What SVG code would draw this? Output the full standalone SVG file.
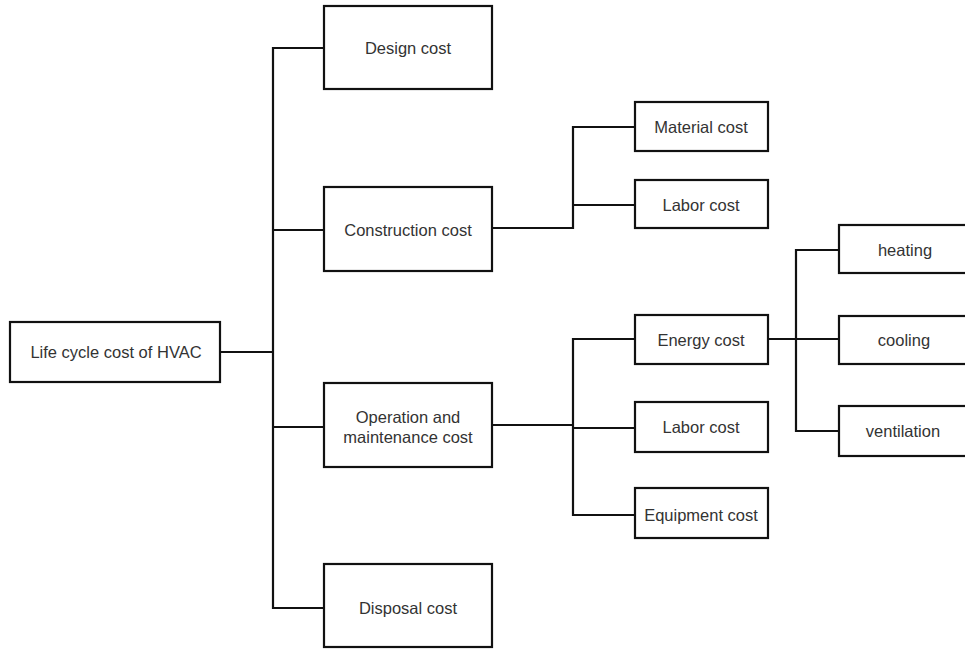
<svg xmlns="http://www.w3.org/2000/svg" width="965" height="649" viewBox="0 0 965 649">
  <style>
    .box { fill: #ffffff; stroke: #111111; stroke-width: 2.2; }
    .lbl { font-family: "Liberation Sans", Arial, sans-serif; font-size: 16.5px; fill: #333333; text-anchor: middle; dominant-baseline: central; }
    .wire { fill: none; stroke: #111111; stroke-width: 2.2; stroke-linejoin: miter; }
  </style>
  <rect width="965" height="649" fill="#ffffff"/>

  <!-- connectors -->
  <g id="connectors" class="wire">
    <!-- root to first level -->
    <path d="M220 352 H273"/>
    <path d="M324 48 H273 V608 H324"/>
    <path d="M273 230 H324"/>
    <path d="M273 427 H324"/>
    <!-- construction branch -->
    <path d="M492 228 H573 V127 H635"/>
    <path d="M573 205 H635"/>
    <!-- operation branch -->
    <path d="M492 425 H573"/>
    <path d="M635 339 H573 V515 H635"/>
    <path d="M573 428 H635"/>
    <!-- energy branch -->
    <path d="M767 339 H839"/>
    <path d="M839 250 H796 V431 H839"/>
  </g>

  <g id="life-cycle">
    <rect class="box" x="10" y="322" width="210" height="60"/>
    <text class="lbl" x="116" y="352">Life cycle cost of HVAC</text>
  </g>
  <g id="design">
    <rect class="box" x="324" y="6" width="168" height="83"/>
    <text class="lbl" x="408" y="48">Design cost</text>
  </g>
  <g id="construction">
    <rect class="box" x="324" y="187" width="168" height="84"/>
    <text class="lbl" x="408" y="230">Construction cost</text>
  </g>
  <g id="operation">
    <rect class="box" x="324" y="383" width="168" height="84"/>
    <text class="lbl" x="408" y="417">Operation and</text>
    <text class="lbl" x="408" y="437">maintenance cost</text>
  </g>
  <g id="disposal">
    <rect class="box" x="324" y="564" width="168" height="83"/>
    <text class="lbl" x="408" y="608">Disposal cost</text>
  </g>
  <g id="material">
    <rect class="box" x="635" y="102" width="133" height="49"/>
    <text class="lbl" x="701" y="127">Material cost</text>
  </g>
  <g id="labor-construction">
    <rect class="box" x="635" y="180" width="133" height="48"/>
    <text class="lbl" x="701" y="205">Labor cost</text>
  </g>
  <g id="energy">
    <rect class="box" x="635" y="315" width="133" height="49"/>
    <text class="lbl" x="701" y="340">Energy cost</text>
  </g>
  <g id="labor-operation">
    <rect class="box" x="635" y="402" width="133" height="50"/>
    <text class="lbl" x="701" y="427">Labor cost</text>
  </g>
  <g id="equipment">
    <rect class="box" x="635" y="488" width="133" height="50"/>
    <text class="lbl" x="701" y="515">Equipment cost</text>
  </g>
  <g id="heating">
    <rect class="box" x="839" y="225" width="140" height="48"/>
    <text class="lbl" x="905" y="250">heating</text>
  </g>
  <g id="cooling">
    <rect class="box" x="839" y="316" width="140" height="48"/>
    <text class="lbl" x="904" y="340">cooling</text>
  </g>
  <g id="ventilation">
    <rect class="box" x="839" y="406" width="140" height="50"/>
    <text class="lbl" x="903" y="431">ventilation</text>
  </g>
</svg>
